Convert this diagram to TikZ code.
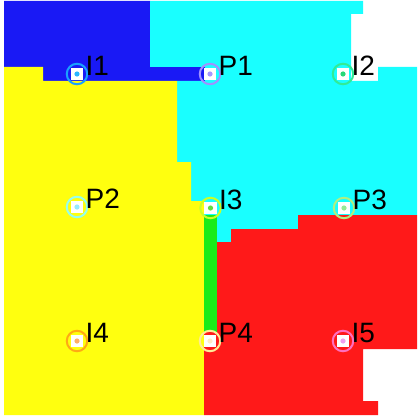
\documentclass[tikz,border=0pt]{standalone}
\usepackage{fontspec}
\setmainfont{Liberation Sans}
\usetikzlibrary{calc}
\definecolor{rblue}{RGB}{25,25,245}
\definecolor{rcyan}{RGB}{25,255,255}
\definecolor{ryellow}{RGB}{255,255,15}
\definecolor{rred}{RGB}{255,25,25}
\definecolor{rgreen}{RGB}{25,235,25}
\definecolor{cI1}{RGB}{25,160,255}
\definecolor{dI1}{RGB}{40,180,255}
\definecolor{cP1}{RGB}{160,145,255}
\definecolor{dP1}{RGB}{165,150,255}
\definecolor{cI2}{RGB}{50,235,150}
\definecolor{dI2}{RGB}{40,215,120}
\definecolor{cP2}{RGB}{150,255,235}
\definecolor{dP2}{RGB}{150,235,255}
\definecolor{cI3}{RGB}{200,255,40}
\definecolor{dI3}{RGB}{100,220,60}
\definecolor{cP3}{RGB}{175,240,130}
\definecolor{dP3}{RGB}{150,235,150}
\definecolor{cI4}{RGB}{255,170,20}
\definecolor{dI4}{RGB}{255,175,100}
\definecolor{cP4}{RGB}{255,235,150}
\definecolor{dP4}{RGB}{255,235,200}
\definecolor{cI5}{RGB}{255,110,190}
\definecolor{dI5}{RGB}{240,160,240}
\tikzset{
  ring/.style={circle, line width=2pt, minimum size=20.5pt, inner sep=0pt},
  sq/.style={rectangle, fill=white, minimum size=12.5pt, inner sep=0pt},
  lbl/.style={anchor=base west, inner sep=0pt, font=\fontsize{28pt}{30pt}\selectfont, text=black},
}
\newcommand{\mkr}[6]{%
  \node[ring, draw=#4] (#1) at (#2,#3) {};
  \node[sq] (#1s) at (#1) {};
  \fill[#5] (#1) circle (2.6pt);
  \node[lbl] (#1l) at ($(#1)+(8.5,1)$) {#6};
}
\begin{document}
\begin{tikzpicture}[x=1pt,y=-1pt]
\useasboundingbox (0,0) rectangle (419,417);
\fill[white] (0,0) rectangle (419,417);
% regions
\fill[rblue] (4,1) -- (150,1) -- (150,67) -- (205,67) -- (205,81) -- (43,81) -- (43,67) -- (4,67) -- cycle;
\fill[rcyan] (150,1) -- (363,1) -- (363,14) -- (351,14) -- (351,81) -- (378,81) -- (378,67) -- (417,67) -- (417,215) -- (298,215) -- (298,229) -- (231,229) -- (231,242) -- (217,242) -- (217,215) -- (204,215) -- (204,201) -- (191,201) -- (191,162) -- (177,162) -- (177,81) -- (205,81) -- (205,67) -- (150,67) -- cycle;
\fill[ryellow] (4,67) -- (43,67) -- (43,81) -- (177,81) -- (177,162) -- (191,162) -- (191,201) -- (204,201) -- (204,415) -- (4,415) -- cycle;
\fill[rgreen] (204,215) rectangle (217,332);
\fill[rred] (217,242) -- (231,242) -- (231,229) -- (298,229) -- (298,215) -- (417,215) -- (417,349) -- (363,349) -- (363,401) -- (378,401) -- (378,415) -- (204,415) -- (204,332) -- (217,332) -- cycle;
% markers
\mkr{I1}{77}{74}{cI1}{dI1}{I1}
\mkr{P1}{210}{74}{cP1}{dP1}{P1}
\mkr{I2}{343}{74}{cI2}{dI2}{I2}
\mkr{P2}{77}{207}{cP2}{dP2}{P2}
\mkr{I3}{210.5}{208}{cI3}{dI3}{I3}
\mkr{P3}{344}{208}{cP3}{dP3}{P3}
\mkr{I4}{77}{341}{cI4}{dI4}{I4}
\mkr{P4}{210}{341}{cP4}{dP4}{P4}
\mkr{I5}{343}{341}{cI5}{dI5}{I5}
\end{tikzpicture}
\end{document}
